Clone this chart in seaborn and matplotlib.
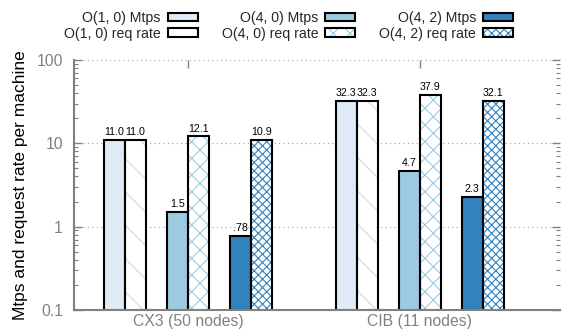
import matplotlib
matplotlib.use("Agg")
import matplotlib.pyplot as plt
import numpy as np
import pandas as pd
import seaborn as sns
from matplotlib.patches import Patch

# ---- data ----
groups = ["CX3 (50 nodes)", "CIB (11 nodes)"]
configs = ["O(1, 0)", "O(4, 0)", "O(4, 2)"]
metrics = ["Mtps", "req rate"]
mtps_cx3 = [11.0, 1.5, 0.78]
req_cx3 = [11.0, 12.1, 10.9]
mtps_cib = [32.3, 4.7, 2.3]
req_cib = [32.3, 37.9, 32.1]
y_ticks = [0.1, 1, 10, 100]
y_tick_labels = ["0.1", "1", "10", "100"]

# ---- styles ----
fill_colors = ["#deebf7", "#9ecae1", "#3182bd"]
hatch_colors = ["#c6dbef", "#9ecae1", "#3182bd"]
hatches = ["\\", "xx", "xxxx"]
grey = "#808080"

values = {(0, 0): mtps_cx3, (0, 1): req_cx3, (1, 0): mtps_cib, (1, 1): req_cib}
rows = []
for gi, g in enumerate(groups):
    for ci, c in enumerate(configs):
        for mi, m in enumerate(metrics):
            rows.append(dict(group=g, series=f"{c} {m}",
                             pos=gi * 11 + (ci - 1) * 3 + (mi - 0.5),
                             value=values[(gi, mi)][ci]))
df = pd.DataFrame(rows)
series_order = [f"{c} {m}" for c in configs for m in metrics]
pal = {}
for ci, c in enumerate(configs):
    pal[f"{c} Mtps"] = fill_colors[ci]
    pal[f"{c} req rate"] = "white"

sns.set_style("ticks")
plt.rcParams["font.family"] = ["Liberation Sans", "DejaVu Sans"]
plt.rcParams["hatch.linewidth"] = 0.8

fig = plt.figure(figsize=(5.72, 3.32), dpi=100)
ax = fig.add_axes([74 / 572, 22 / 332, (560 - 74) / 572, 250 / 332])
ax.set_yscale("log")

# fill + hatch layer
sns.barplot(data=df, x="pos", y="value", hue="series", hue_order=series_order,
            palette=pal, saturation=1, native_scale=True, width=1, dodge=False,
            errorbar=None, legend=False, linewidth=0, ax=ax)
for si, cont in enumerate(ax.containers):
    ci, mi = divmod(si, 2)
    for p in cont.patches:
        if mi == 1:
            p.set_hatch(hatches[ci])
            p.set_edgecolor(hatch_colors[ci])
        else:
            p.set_edgecolor(fill_colors[ci])
        p.set_linewidth(0)
n_fill = len(ax.containers)

# outline layer
sns.barplot(data=df, x="pos", y="value", native_scale=True, width=1,
            fill=False, color="black", saturation=1, linewidth=1.5,
            errorbar=None, ax=ax)
outline = ax.containers[n_fill]
ax.bar_label(outline, fmt=lambda v: (f"{v:.2f}".lstrip("0") if v < 1 else f"{v:.1f}"),
             padding=2, fontsize=7.7, color="black")

ax.set_ylim(0.1, 100)
ax.set_xlim(-5.43, 17.67)
ax.set_yticks(y_ticks)
ax.set_yticklabels(y_tick_labels)
ax.set_xticks([0, 11])
ax.set_xticklabels(groups)
ax.set_xlabel("")
ax.set_ylabel("Mtps and request rate per machine", fontsize=12.5, color="black",
              labelpad=6)

ax.yaxis.grid(True, which="major", linestyle=(0, (1, 3)), color="#a0a0a0", linewidth=0.8)
ax.set_axisbelow(True)
for s in ["top", "right"]:
    ax.spines[s].set_visible(False)
for s in ["left", "bottom"]:
    ax.spines[s].set_color(grey)
    ax.spines[s].set_linewidth(1.5)
ax.tick_params(axis="y", which="both", direction="in", left=True, right=True,
               colors=grey, labelsize=11.3, pad=8)
ax.tick_params(axis="y", which="major", length=6, width=1)
ax.tick_params(axis="y", which="minor", length=3, width=0.8)
ax.tick_params(axis="x", which="both", direction="in", top=True, bottom=False,
               colors=grey, labelsize=11.3, length=6, width=1.0, pad=3)

handles = []
labels = []
for ci, c in enumerate(configs):
    handles.append((Patch(facecolor=fill_colors[ci], edgecolor=fill_colors[ci], linewidth=0),
                    Patch(fill=False, edgecolor="black", linewidth=1.5)))
    labels.append(f"{c} Mtps")
    handles.append((Patch(facecolor="white", edgecolor=hatch_colors[ci], hatch=hatches[ci], linewidth=0),
                    Patch(fill=False, edgecolor="black", linewidth=1.5)))
    labels.append(f"{c} req rate")
fig.legend(handles, labels, ncol=3, loc="upper left",
           bbox_to_anchor=(64 / 572, 1 - 11 / 332), markerfirst=False, frameon=False,
           fontsize=10.2, columnspacing=1.7, handletextpad=0.5, labelspacing=0.12,
           handlelength=2.1, handleheight=0.55, borderpad=0, borderaxespad=0)

fig.savefig("out.png", dpi=100)
